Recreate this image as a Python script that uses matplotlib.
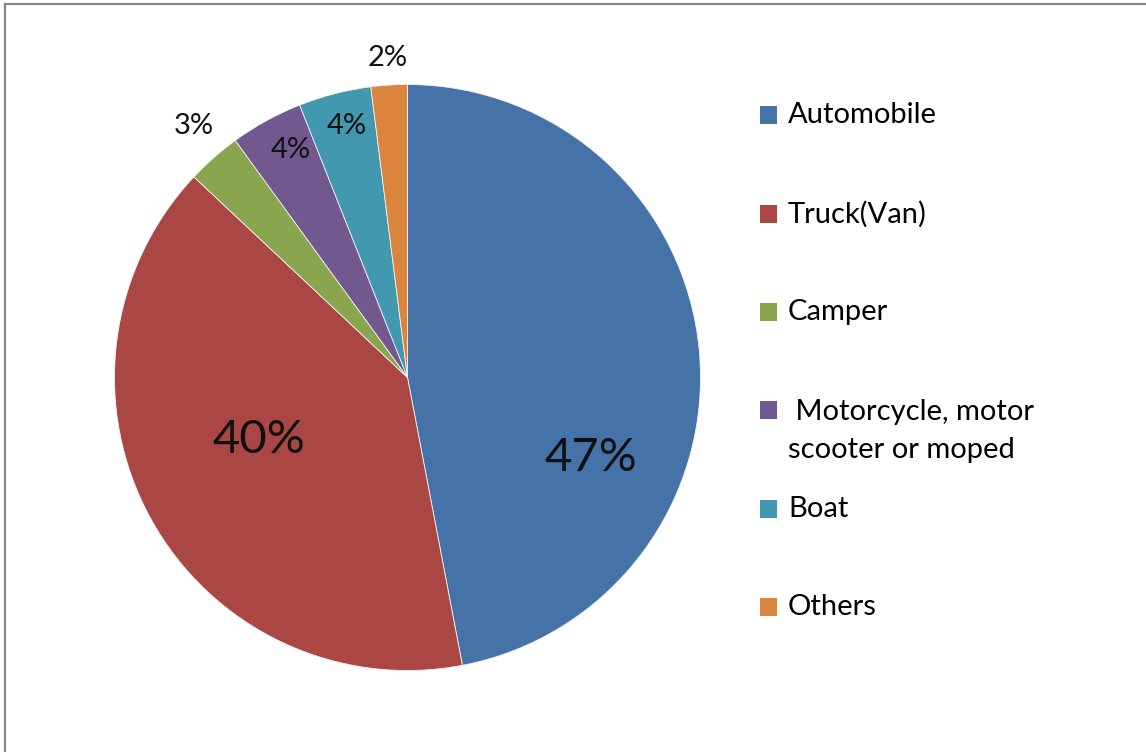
import matplotlib
matplotlib.use("Agg")
import matplotlib.pyplot as plt
from matplotlib.patches import Rectangle
from matplotlib.lines import Line2D

# Vehicle categories and their share (%)
categories = ["Automobile", "Truck(Van)", "Camper",
              " Motorcycle, motor\nscooter or moped", "Boat", "Others"]
shares = [47, 40, 3, 4, 4, 2]
colors = ["#4572A7", "#AA4643", "#89A54E", "#71588F", "#4198AF", "#DB843D"]

W, H = 1146, 752
plt.rcParams["font.family"] = ["Lato", "DejaVu Sans"]

fig = plt.figure(figsize=(W / 100, H / 100), dpi=100)
ax = fig.add_axes([0, 0, 1, 1])
ax.set_xlim(0, W)
ax.set_ylim(0, H)
ax.set_aspect("equal")
ax.axis("off")

def py(y):
    """Convert a top-down pixel row into axes y."""
    return H - y

cx, cy, R = 407.5, py(377.5), 293
wedges, _ = ax.pie(shares, colors=colors, startangle=90, counterclock=False,
                   center=(cx, cy), radius=R, frame=True,
                   wedgeprops={"edgecolor": "#f2f2f2", "linewidth": 0.6})
ax.set_xlim(0, W)
ax.set_ylim(0, H)
ax.axis("off")

# Percentage labels: (x, y, fontsize) per slice
label_pos = [(591, 458, 34), (259, 440, 34), (194, 126, 21),
             (291, 150, 21), (347, 126, 21), (388, 58, 21)]
for v, (x, y, fs) in zip(shares, label_pos):
    ax.text(x, py(y), f"{v}%", ha="center", va="center", fontsize=fs,
            color="#111111")

# Legend
legend_y = [115, 214, 312, 431, 509, 607]
for name, col, y in zip(categories, colors, legend_y):
    sq_y = y if "\n" not in name else 410
    ax.add_patch(Rectangle((760, py(sq_y) - 9), 17, 18, facecolor=col,
                           edgecolor="none"))
    ax.text(788, py(y), name, ha="left", va="center", fontsize=21,
            color="black", linespacing=1.6)

# Frame lines along the top and left edges
fig.add_artist(Line2D([5 / W, 1], [1 - 4 / H, 1 - 4 / H], color="#878787",
                      linewidth=1.6, transform=fig.transFigure))
fig.add_artist(Line2D([5 / W, 5 / W], [0, 1 - 4 / H], color="#878787",
                      linewidth=1.6, transform=fig.transFigure))

fig.savefig("out.png", dpi=100)
